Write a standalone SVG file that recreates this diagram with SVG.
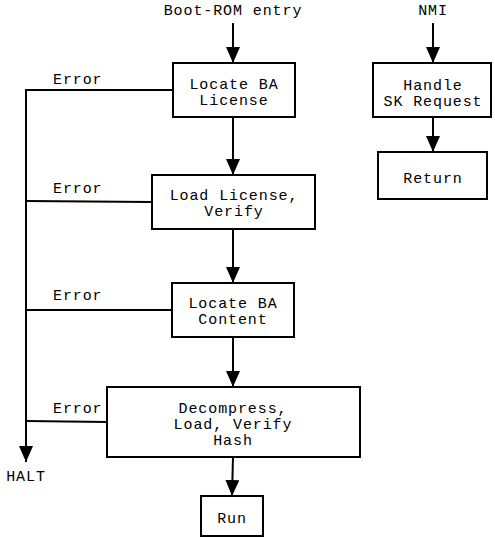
<svg xmlns="http://www.w3.org/2000/svg" width="495" height="537" viewBox="0 0 495 537">
<style>
text{font-family:"Liberation Mono","Courier New",monospace;font-size:15px;letter-spacing:0.9px;fill:#000;text-anchor:middle}
.l{text-anchor:start}
rect{fill:#fff;stroke:#000;stroke-width:2}
.c line,.c polyline{stroke:#000;stroke-width:2;fill:none}
</style>
<defs>
<marker id="ah" markerUnits="userSpaceOnUse" markerWidth="16" markerHeight="14" refX="16" refY="7" orient="auto"><path d="M0,0 L16,7 L0,14 z" fill="#000"/></marker>
</defs>
<rect width="495" height="537" style="fill:#fff;stroke:none"/>
<g class="c" id="connectors">
<line x1="233" y1="23" x2="233" y2="63" marker-end="url(#ah)"/>
<line x1="233" y1="117" x2="233" y2="175" marker-end="url(#ah)"/>
<line x1="233" y1="229" x2="233" y2="283" marker-end="url(#ah)"/>
<line x1="233" y1="337" x2="233" y2="387" marker-end="url(#ah)"/>
<line x1="233" y1="457" x2="232" y2="496" marker-end="url(#ah)"/>
<line x1="433" y1="23" x2="433" y2="63" marker-end="url(#ah)"/>
<line x1="433" y1="117" x2="433" y2="152" marker-end="url(#ah)"/>
<polyline points="173,90 26,90 26,462" marker-end="url(#ah)"/>
<line x1="152" y1="202" x2="26" y2="201"/>
<line x1="172" y1="310" x2="26" y2="310"/>
<line x1="107" y1="422" x2="26" y2="421"/>
<text class="l" x="53" y="84">Error</text>
<text class="l" x="53" y="193">Error</text>
<text class="l" x="53" y="300">Error</text>
<text class="l" x="53" y="413">Error</text>
</g>
<g id="start"><text x="233" y="15">Boot-ROM entry</text></g>
<g id="nmi"><text x="433" y="15">NMI</text></g>
<g id="halt"><text x="26" y="481">HALT</text></g>
<g id="locate-license"><rect x="173" y="63" width="122" height="54"/><text x="234" y="89">Locate BA</text><text x="234" y="105">License</text></g>
<g id="load-license"><rect x="152" y="175" width="163" height="54"/><text x="234" y="200">Load License,</text><text x="234" y="216">Verify</text></g>
<g id="locate-content"><rect x="172" y="283" width="122" height="54"/><text x="233" y="308">Locate BA</text><text x="233" y="324">Content</text></g>
<g id="decompress"><rect x="107" y="387" width="253" height="70"/><text x="233" y="413">Decompress,</text><text x="233" y="429">Load, Verify</text><text x="233" y="445">Hash</text></g>
<g id="run"><rect x="201" y="496" width="62" height="40"/><text x="232" y="523">Run</text></g>
<g id="handle"><rect x="373" y="63" width="118" height="54"/><text x="433" y="90">Handle</text><text x="433" y="106">SK Request</text></g>
<g id="return"><rect x="378" y="152" width="109" height="47"/><text x="433" y="183">Return</text></g>
</svg>
